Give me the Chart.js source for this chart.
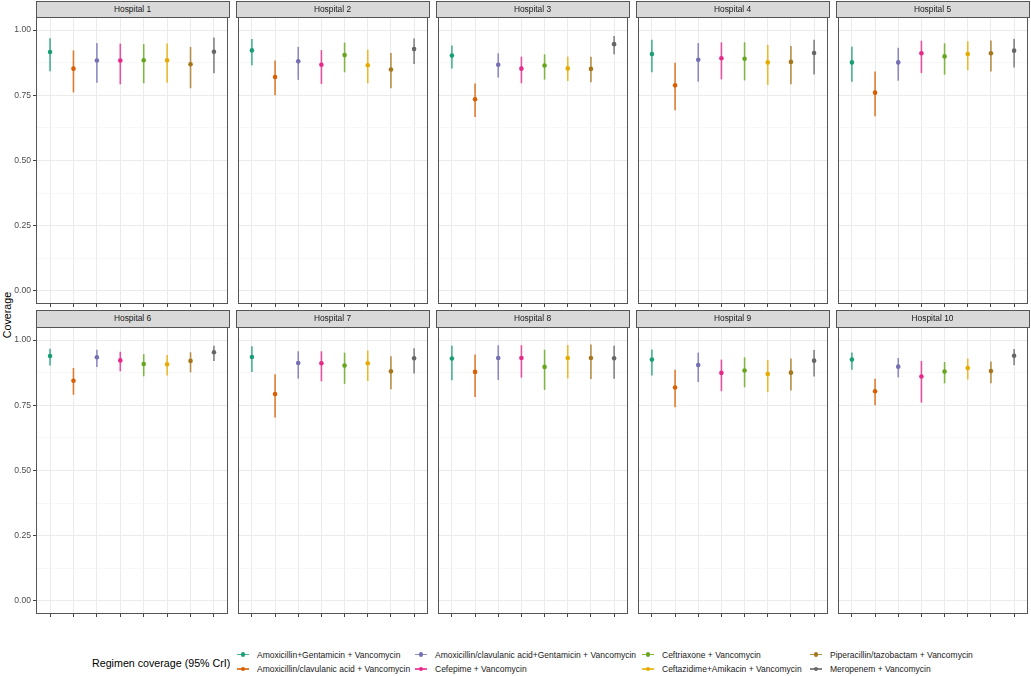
<!DOCTYPE html>
<html>
<head>
<meta charset="utf-8">
<script src="https://cdn.jsdelivr.net/npm/chart.js@4/dist/chart.umd.min.js"></script>
<style>
  html, body { margin:0; padding:0; background:#fff; }
  body { width:1031px; height:676px; position:relative; overflow:hidden; font-family:"Liberation Sans", Arial, sans-serif; }
  canvas { position:absolute; }
  .strip { position:absolute; box-sizing:border-box; background:#D9D9D9; border:1px solid #555; color:#1A1A1A;
           font-size:8.4px; text-align:center; z-index:5; }
  .ytitle { position:absolute; left:7px; top:315px; transform:translate(-50%,-50%) rotate(-90deg); font-size:10.7px; color:#000; white-space:nowrap; }
  .ltitle { position:absolute; left:92px; top:662.5px; transform:translateY(-50%); font-size:10.7px; color:#000; white-space:nowrap; }
  .litem { position:absolute; transform:translateY(-50%); font-size:8.5px; color:#1A1A1A; white-space:nowrap; }
  .lkey { position:absolute; width:12px; height:8px; transform:translateY(-50%); }
  .lkey .ln { position:absolute; left:0; top:3.25px; width:12px; height:1.5px; }
  .lkey .dt { position:absolute; left:3.75px; top:1.75px; width:4.5px; height:4.5px; border-radius:50%; }
</style>
</head>
<body>
<div class="ytitle">Coverage</div>
<div class="ltitle">Regimen coverage (95% CrI)</div>
<script>
// ---- data ----
const hospitals = ["Hospital 1","Hospital 2","Hospital 3","Hospital 4","Hospital 5",
                   "Hospital 6","Hospital 7","Hospital 8","Hospital 9","Hospital 10"];
const regimens = [
  "Amoxicillin+Gentamicin + Vancomycin",
  "Amoxicillin/clavulanic acid + Vancomycin",
  "Amoxicillin/clavulanic acid+Gentamicin + Vancomycin",
  "Cefepime + Vancomycin",
  "Ceftriaxone + Vancomycin",
  "Ceftazidime+Amikacin + Vancomycin",
  "Piperacillin/tazobactam + Vancomycin",
  "Meropenem + Vancomycin"
];
const regimenColors = ["#1B9E77","#D95F02","#7570B3","#E7298A","#66A61E","#E6AB02","#A6761D","#666666"];
const yTicks = [0, 0.25, 0.5, 0.75, 1];
const yMinorTicks = [0.125, 0.375, 0.625, 0.875];

// estimates per hospital (rows) x regimen (cols)
const estimate = [
  [0.916, 0.852, 0.883, 0.883, 0.884, 0.884, 0.869, 0.917],
  [0.922, 0.820, 0.880, 0.867, 0.904, 0.865, 0.849, 0.927],
  [0.902, 0.735, 0.867, 0.852, 0.864, 0.853, 0.851, 0.946],
  [0.908, 0.788, 0.886, 0.892, 0.890, 0.876, 0.878, 0.912],
  [0.876, 0.760, 0.876, 0.911, 0.899, 0.908, 0.911, 0.921],
  [0.939, 0.844, 0.934, 0.922, 0.908, 0.907, 0.920, 0.953],
  [0.935, 0.793, 0.912, 0.911, 0.902, 0.911, 0.880, 0.930],
  [0.929, 0.878, 0.931, 0.931, 0.897, 0.931, 0.931, 0.930],
  [0.925, 0.818, 0.904, 0.874, 0.883, 0.870, 0.875, 0.921],
  [0.925, 0.804, 0.898, 0.860, 0.879, 0.893, 0.881, 0.940]
];
const lower = [
  [0.842, 0.761, 0.798, 0.792, 0.796, 0.798, 0.777, 0.834],
  [0.865, 0.750, 0.809, 0.793, 0.838, 0.796, 0.777, 0.870],
  [0.853, 0.667, 0.818, 0.796, 0.810, 0.805, 0.800, 0.907],
  [0.838, 0.693, 0.802, 0.811, 0.807, 0.790, 0.792, 0.830],
  [0.802, 0.670, 0.806, 0.835, 0.829, 0.846, 0.841, 0.856],
  [0.902, 0.790, 0.897, 0.880, 0.861, 0.864, 0.876, 0.920],
  [0.878, 0.703, 0.852, 0.842, 0.832, 0.843, 0.811, 0.872],
  [0.846, 0.782, 0.847, 0.856, 0.809, 0.853, 0.851, 0.852],
  [0.864, 0.742, 0.839, 0.804, 0.819, 0.800, 0.807, 0.860],
  [0.886, 0.750, 0.857, 0.760, 0.834, 0.849, 0.834, 0.903]
];
const upper = [
  [0.969, 0.922, 0.950, 0.948, 0.946, 0.948, 0.935, 0.971],
  [0.966, 0.883, 0.936, 0.923, 0.952, 0.925, 0.912, 0.968],
  [0.941, 0.795, 0.911, 0.898, 0.907, 0.898, 0.898, 0.977],
  [0.963, 0.875, 0.950, 0.953, 0.953, 0.943, 0.939, 0.963],
  [0.936, 0.841, 0.932, 0.959, 0.949, 0.957, 0.960, 0.967],
  [0.967, 0.893, 0.963, 0.955, 0.946, 0.943, 0.953, 0.978],
  [0.976, 0.869, 0.957, 0.957, 0.952, 0.960, 0.938, 0.969],
  [0.978, 0.945, 0.980, 0.980, 0.963, 0.981, 0.983, 0.978],
  [0.964, 0.886, 0.952, 0.925, 0.934, 0.923, 0.929, 0.962],
  [0.952, 0.852, 0.931, 0.920, 0.916, 0.929, 0.918, 0.966]
];

// ---- layout ----
const panelLefts = [35.6, 235.5, 435.5, 635.6, 835.5];
const panelW = 194;
const rowPlotTops = [17.3, 326.7];
const plotH = 287;
const stripH = 16.6;
const yAxisW = 36;
const PADV = 10, XAXIS_H = 4;

function alpha(hex, a) {
  const n = parseInt(hex.slice(1), 16);
  return `rgba(${(n>>16)&255},${(n>>8)&255},${n&255},${a})`;
}
const isMajor = v => Math.abs(v*4 - Math.round(v*4)) < 1e-6;

const framePlugin = {
  id: 'frame',
  afterDraw(chart) {
    const {ctx, chartArea: a} = chart;
    ctx.save();
    ctx.strokeStyle = '#555';
    ctx.lineWidth = 1;
    ctx.strokeRect(Math.round(a.left) + 0.5, Math.round(a.top) + 0.5,
                   Math.round(a.right - a.left) - 1, Math.round(a.bottom - a.top) - 1);
    ctx.restore();
  }
};

hospitals.forEach((name, h) => {
  const row = Math.floor(h / 5), col = h % 5;
  const firstCol = col === 0;
  const yW = firstCol ? yAxisW : 0;
  const left = panelLefts[col], top = rowPlotTops[row];

  // strip
  const s = document.createElement('div');
  s.className = 'strip';
  s.style.left = left + 'px';
  s.style.top = (top - stripH) + 'px';
  s.style.width = panelW + 'px';
  s.style.height = (stripH + 1) + 'px';
  s.style.lineHeight = (stripH - 1) + 'px';
  s.textContent = name;
  document.body.appendChild(s);

  const cv = document.createElement('canvas');
  const cw = Math.round(panelW + yW + 4);
  const ch = Math.round(plotH + PADV * 2 + XAXIS_H);
  cv.width = cw; cv.height = ch;
  cv.style.width = cw + 'px'; cv.style.height = ch + 'px';
  cv.style.left = (left - yW - 2) + 'px';
  cv.style.top = (top - PADV) + 'px';
  document.body.appendChild(cv);

  const datasets = [];
  regimens.forEach((r, i) => {
    datasets.push({
      type: 'line',
      data: [{x: i + 1, y: lower[h][i]}, {x: i + 1, y: upper[h][i]}],
      borderColor: alpha(regimenColors[i], 0.8),
      borderWidth: 1.6,
      pointRadius: 0,
      showLine: true,
      fill: false
    });
  });
  datasets.push({
    type: 'scatter',
    data: regimens.map((r, i) => ({x: i + 1, y: estimate[h][i]})),
    pointBackgroundColor: regimenColors,
    pointBorderColor: regimenColors,
    pointRadius: 2.3,
    pointBorderWidth: 0
  });

  new Chart(cv, {
    type: 'scatter',
    data: { datasets },
    options: {
      responsive: false,
      animation: false,
      events: [],
      layout: { padding: { left: 2, right: 2, top: PADV, bottom: PADV } },
      plugins: { legend: { display: false }, tooltip: { enabled: false }, title: { display: false } },
      scales: {
        x: {
          type: 'linear', min: 0.4, max: 8.6,
          afterBuildTicks: sc => { sc.ticks = regimens.map((r, i) => ({ value: i + 1 })); },
          afterFit: sc => { sc.height = XAXIS_H; },
          ticks: { display: false },
          grid: { color: '#EBEBEB', lineWidth: 1, drawTicks: true, tickLength: 3, tickColor: '#444' },
          border: { display: false }
        },
        y: {
          type: 'linear', min: -0.05, max: 1.05,
          afterBuildTicks: sc => {
            sc.ticks = yTicks.concat(yMinorTicks).sort((a, b) => a - b).map(v => ({ value: v }));
          },
          afterFit: sc => { sc.width = yW; },
          ticks: {
            display: firstCol,
            autoSkip: false,
            padding: 2,
            color: '#4D4D4D',
            font: { family: '"Liberation Sans", Arial, sans-serif', size: 8.6 },
            callback: v => isMajor(v) ? v.toFixed(2) : ''
          },
          grid: {
            color: c => (c.tick && isMajor(c.tick.value)) ? '#EBEBEB' : '#F4F4F4',
            lineWidth: c => (c.tick && isMajor(c.tick.value)) ? 1 : 0.7,
            drawTicks: firstCol,
            tickLength: 3,
            tickColor: c => (c.tick && isMajor(c.tick.value)) ? '#444' : 'rgba(0,0,0,0)'
          },
          border: { display: false }
        }
      }
    },
    plugins: [framePlugin]
  });
});

// ---- legend ----
const legendTextX = [257, 435, 662, 830];
const legendRowY = [654.5, 669];
regimens.forEach((r, i) => {
  const c = Math.floor(i / 2), rr = i % 2;
  const key = document.createElement('div');
  key.className = 'lkey';
  key.style.left = (legendTextX[c] - 20) + 'px';
  key.style.top = legendRowY[rr] + 'px';
  key.innerHTML = `<div class="ln" style="background:${alpha(regimenColors[i],0.8)}"></div><div class="dt" style="background:${regimenColors[i]}"></div>`;
  document.body.appendChild(key);
  const t = document.createElement('div');
  t.className = 'litem';
  t.style.left = legendTextX[c] + 'px';
  t.style.top = legendRowY[rr] + 'px';
  t.textContent = r;
  document.body.appendChild(t);
});
</script>
</body>
</html>
